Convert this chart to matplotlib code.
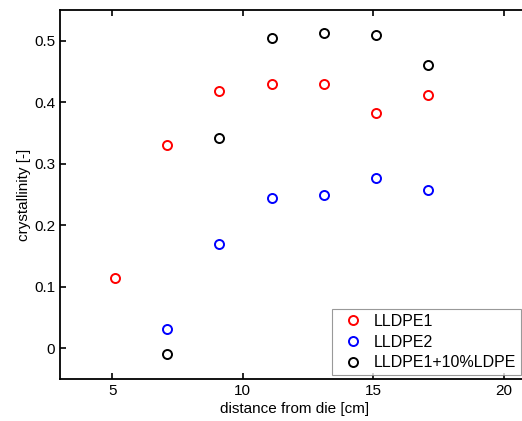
import matplotlib.pyplot as plt

plt.rcParams['font.family'] = ['Liberation Sans', 'DejaVu Sans']

# crystallinity vs distance from die
x_lldpe1 = [5.1, 7.1, 9.1, 11.1, 13.1, 15.1, 17.1]
y_lldpe1 = [0.115, 0.330, 0.418, 0.430, 0.430, 0.383, 0.412]

x_lldpe2 = [7.1, 9.1, 11.1, 13.1, 15.1, 17.1]
y_lldpe2 = [0.032, 0.170, 0.244, 0.250, 0.277, 0.258]

x_blend = [7.1, 9.1, 11.1, 13.1, 15.1, 17.1]
y_blend = [-0.010, 0.342, 0.505, 0.512, 0.510, 0.460]

fig = plt.figure(figsize=(5.22, 4.21), dpi=100)
# axes runs past the right edge of the figure, as in the original
ax = fig.add_axes([60 / 522, 1 - 379 / 421, 470 / 522, 369 / 421])

ms = 6.5
ax.plot(x_lldpe1, y_lldpe1, 'o', mfc='none', mec='red', mew=1.4, ms=ms, label='LLDPE1')
ax.plot(x_lldpe2, y_lldpe2, 'o', mfc='none', mec='blue', mew=1.4, ms=ms, label='LLDPE2')
ax.plot(x_blend, y_blend, 'o', mfc='none', mec='black', mew=1.4, ms=ms, label='LLDPE1+10%LDPE')

ax.set_xlim(3, 21)
ax.set_ylim(-0.05, 0.55)
ax.set_xticks([5, 10, 15, 20])
ax.set_yticks([0, 0.1, 0.2, 0.3, 0.4, 0.5])
ax.set_yticklabels(['0', '0.1', '0.2', '0.3', '0.4', '0.5'])
ax.tick_params(direction='in', top=True, right=False, labelsize=11, length=4, width=1.2)
for s in ax.spines.values():
    s.set_linewidth(1.3)
ax.spines['right'].set_visible(False)

ax.set_xlabel('distance from die [cm]', fontsize=11, labelpad=3)
ax.set_ylabel('crystallinity [-]', fontsize=11, labelpad=2)

leg = ax.legend(loc='lower left', bbox_to_anchor=(272 / 470, 4 / 369), borderaxespad=0,
                fontsize=11.5, fancybox=False, edgecolor='gray', handletextpad=0.3,
                borderpad=0.3, labelspacing=0.35, handlelength=2.0)
leg.get_frame().set_linewidth(0.8)

fig.savefig('out.png', dpi=100)
